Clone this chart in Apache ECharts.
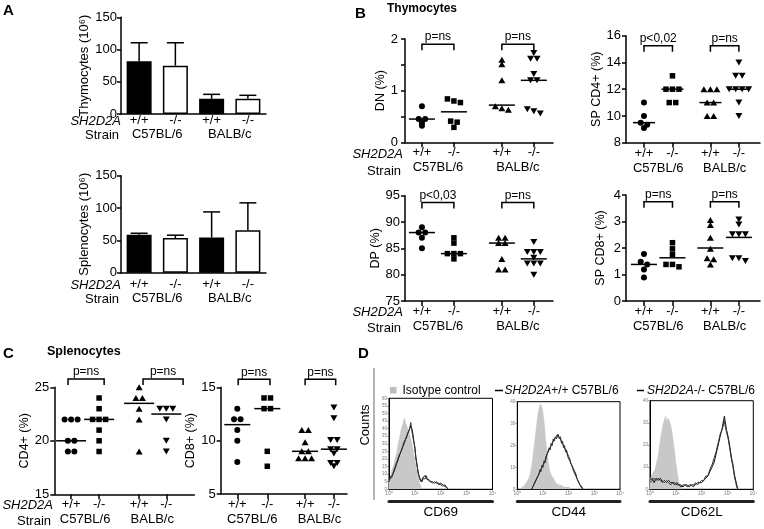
<!DOCTYPE html>
<html><head><meta charset="utf-8">
<script src="https://cdn.jsdelivr.net/npm/echarts@6/dist/echarts.min.js"></script>
<style>html,body{margin:0;padding:0;background:#fff}#c{width:764px;height:529px}</style>
</head><body><div id="c"></div>
<script>
// ---------------- DATA ----------------
const genotypes = ['+/+', '-/-', '+/+', '-/-'];
const strains = ['C57BL/6', 'BALB/c'];

// Panel A (10^6 cells): mean and upper end of error bar
const thymoMean = [82, 75, 23.5, 23.5];
const thymoUpper = [110.5, 110.5, 30.5, 29];
const splenoMean = [58.5, 53.5, 54.5, 65.5];
const splenoUpper = [61, 58, 94, 108];

// Panel B thymocytes (%), groups: C57BL/6 +/+, C57BL/6 -/-, BALB/c +/+, BALB/c -/-
const dnC57wt = [0.70, 0.45, 0.45, 0.38, 0.32];
const dnC57ko = [0.84, 0.80, 0.77, 0.41, 0.39, 0.29];
const dnBALBwt = [1.60, 1.51, 1.20, 0.70, 0.66, 0.63];
const dnBALBko = [1.73, 1.62, 1.62, 1.32, 1.20, 1.20, 0.64, 0.60, 0.56];
const dnMedian = [0.45, 0.59, 0.72, 1.2];

const cd4spC57wt = [11, 10, 9.5, 9.35, 9.1];
const cd4spC57ko = [13, 12, 12, 12, 11, 11];
const cd4spBALBwt = [12, 12, 12, 11, 11, 10, 10];
const cd4spBALBko = [14, 13, 13, 12, 12, 12, 12, 11, 10];
const cd4spMedian = [9.5, 12, 11, 12];

const dpC57wt = [89, 88, 88, 87, 85];
const dpC57ko = [87, 86, 84, 84, 84, 83];
const dpBALBwt = [87, 87, 86, 86, 83, 81, 81];
const dpBALBko = [86.2, 84.3, 84.3, 84.3, 83.2, 82.1, 82.1, 82.1, 80];
const dpMedian = [88, 84, 86, 83];

const cd8spC57wt = [1.77, 1.48, 1.38, 1.19, 0.89];
const cd8spC57ko = [2.2, 1.97, 1.76, 1.38, 1.38, 1.29];
const cd8spBALBwt = [3.06, 2.87, 2.39, 1.97, 1.61, 1.58, 1.38];
const cd8spBALBko = [3.08, 2.89, 2.52, 2.52, 2.52, 1.61, 1.61, 1.51];
const cd8spMedian = [1.38, 1.63, 2.0, 2.4];

// Panel C splenocytes (%)
const cd4C57wt = [22, 22, 22, 20, 20, 19, 19];
const cd4C57ko = [24, 23, 22, 22, 22, 21, 20, 19];
const cd4BALBwt = [25, 24, 24, 23, 22, 19];
const cd4BALBko = [23, 23, 23, 22, 20, 19];
const cd4Median = [20, 22, 23.5, 22.5];

const cd8C57wt = [13, 12, 12, 11, 10, 8];
const cd8C57ko = [14, 14, 13, 13, 9, 7.6];
const cd8BALBwt = [11, 11, 9.85, 9, 9, 8.35, 8.35, 8.35];
const cd8BALBko = [13.1, 12.1, 10.05, 10.05, 9.2, 9.2, 8.8, 7.9, 7.9, 7.6];
const cd8Median = [11.5, 13, 9, 9.2];

// p-value annotations
const pThymo = { dn: ['p=ns', 'p=ns'], cd4sp: ['p<0,02', 'p=ns'], dp: ['p<0,03', 'p=ns'], cd8sp: ['p=ns', 'p=ns'] };
const pSpleno = { cd4: ['p=ns', 'p=ns'], cd8: ['p=ns', 'p=ns'] };

// Panel D histograms: [log10 fluorescence, counts]
const cd69Iso = [[0,5],[0.05,8],[0.1,12],[0.15,13],[0.2,17],[0.25,21],[0.3,24],[0.35,30],[0.4,33],[0.45,38],[0.5,41],[0.55,44],[0.6,47],[0.65,43],[0.7,44],[0.75,39],[0.8,36],[0.85,33],[0.9,29],[0.95,24],[1.0,19],[1.05,14],[1.1,10],[1.15,6],[1.2,3],[1.25,1],[1.3,0]];
const cd69Wt = [[0,6],[0.04,8],[0.08,7],[0.12,9],[0.16,10],[0.2,12],[0.24,14],[0.28,16],[0.32,18],[0.36,20],[0.4,22],[0.44,23],[0.48,26],[0.52,27],[0.56,29],[0.6,31],[0.64,32],[0.68,35],[0.72,36],[0.76,38],[0.8,39],[0.84,42],[0.88,40],[0.92,37],[0.96,32],[1.0,27],[1.04,21],[1.08,16],[1.12,12],[1.16,9],[1.2,7],[1.24,5],[1.28,6],[1.32,8],[1.36,7],[1.4,9],[1.44,7],[1.48,8],[1.52,6],[1.56,7],[1.6,5],[1.68,5],[1.76,4],[1.84,5],[1.92,3],[2.0,4],[2.08,3],[2.16,2],[2.24,1],[2.3,0]];
const cd69Ko = [[0,5],[0.04,7],[0.08,8],[0.12,8],[0.16,11],[0.2,11],[0.24,15],[0.28,15],[0.32,19],[0.36,19],[0.4,23],[0.44,24],[0.48,25],[0.52,28],[0.56,28],[0.6,32],[0.64,31],[0.68,34],[0.72,37],[0.76,37],[0.8,40],[0.84,44],[0.88,39],[0.92,38],[0.96,31],[1.0,28],[1.04,20],[1.08,17],[1.12,11],[1.16,10],[1.2,6],[1.24,6],[1.28,5],[1.32,7],[1.36,8],[1.4,7],[1.44,9],[1.48,7],[1.52,7],[1.56,6],[1.6,6],[1.68,4],[1.76,5],[1.84,4],[1.92,4],[2.0,3],[2.08,2],[2.16,3],[2.24,1],[2.3,0]];

const cd44Iso = [[0.1,0],[0.2,1],[0.3,2],[0.4,4],[0.45,5],[0.5,7],[0.55,10],[0.6,14],[0.65,19],[0.7,24],[0.75,29],[0.8,34],[0.85,37],[0.9,39],[0.95,38],[1.0,35],[1.05,30],[1.1,23],[1.15,18],[1.2,13],[1.25,9],[1.3,7],[1.4,5],[1.5,3],[1.6,2],[1.7,2],[1.8,1],[2.0,1],[2.1,0]];
const cd44Wt = [[0.56,0],[0.6,1],[0.64,2],[0.68,2],[0.72,4],[0.76,4],[0.8,6],[0.84,7],[0.88,8],[0.92,9],[0.96,10],[1.0,11],[1.04,12],[1.08,13],[1.12,15],[1.16,15],[1.2,17],[1.24,18],[1.28,19],[1.32,20],[1.36,21],[1.4,22],[1.44,23],[1.48,23],[1.52,24],[1.56,25],[1.6,24],[1.64,24],[1.68,23],[1.72,22],[1.76,21],[1.8,20],[1.84,19],[1.88,18],[1.92,17],[1.96,16],[2.0,15],[2.04,14],[2.08,12],[2.12,12],[2.16,10],[2.2,9],[2.24,8],[2.28,7],[2.32,5],[2.36,5],[2.4,3],[2.44,2],[2.48,2],[2.52,1],[2.56,0]];
const cd44Ko = [[0.56,0],[0.6,1],[0.64,1],[0.68,3],[0.72,3],[0.76,5],[0.8,5],[0.84,7],[0.88,9],[0.92,8],[0.96,11],[1.0,10],[1.04,13],[1.08,12],[1.12,14],[1.16,16],[1.2,16],[1.24,19],[1.28,18],[1.32,21],[1.36,20],[1.4,23],[1.44,22],[1.48,24],[1.52,23],[1.56,24],[1.6,25],[1.64,23],[1.68,24],[1.72,21],[1.76,22],[1.8,19],[1.84,20],[1.88,17],[1.92,18],[1.96,15],[2.0,15],[2.04,13],[2.08,13],[2.12,11],[2.16,11],[2.2,8],[2.24,8],[2.28,6],[2.32,6],[2.36,4],[2.4,4],[2.44,2],[2.48,1],[2.52,1],[2.56,0]];

const cd62Iso = [[0,4],[0.05,6],[0.1,6],[0.15,8],[0.2,9],[0.25,12],[0.3,14],[0.35,18],[0.4,22],[0.45,26],[0.5,29],[0.55,31],[0.6,33],[0.65,31],[0.7,32],[0.75,31],[0.8,29],[0.85,26],[0.9,22],[0.95,17],[1.0,12],[1.05,8],[1.1,4],[1.15,2],[1.2,1],[1.25,0]];
const cd62Wt = [[0,4],[0.08,5],[0.16,3],[0.24,5],[0.32,4],[0.4,5],[0.48,3],[0.56,4],[0.64,3],[0.72,4],[0.8,3],[0.88,3],[0.96,2],[1.04,3],[1.12,2],[1.2,2],[1.28,1],[1.36,2],[1.44,2],[1.52,1],[1.6,2],[1.68,2],[1.76,2],[1.84,3],[1.92,3],[2.0,3],[2.08,4],[2.16,5],[2.24,6],[2.32,8],[2.4,10],[2.48,12],[2.56,16],[2.64,20],[2.72,24],[2.8,28],[2.88,33],[2.92,30],[2.96,27],[3.0,25],[3.04,23],[3.08,20],[3.12,17],[3.16,14],[3.2,12],[3.24,9],[3.28,6],[3.32,4],[3.36,2],[3.4,0]];
const cd62Ko = [[0,3],[0.08,4],[0.16,5],[0.24,4],[0.32,5],[0.4,4],[0.48,4],[0.56,3],[0.64,4],[0.72,3],[0.8,2],[0.88,3],[0.96,3],[1.04,2],[1.12,2],[1.2,1],[1.28,2],[1.36,2],[1.44,1],[1.52,2],[1.6,2],[1.68,1],[1.76,3],[1.84,2],[1.92,3],[2.0,4],[2.08,4],[2.16,6],[2.24,6],[2.32,9],[2.4,11],[2.48,14],[2.56,17],[2.64,21],[2.72,25],[2.8,27],[2.88,31],[2.92,28],[2.96,28],[3.0,24],[3.04,22],[3.08,19],[3.12,16],[3.16,13],[3.2,11],[3.24,8],[3.28,5],[3.32,3],[3.36,1],[3.4,0]];

// ---------------- BUILD ----------------
const FONT = "'Liberation Sans', Arial, Helvetica, sans-serif";
const BLACK = '#000';
const grid = [], xAxis = [], yAxis = [], series = [], graphic = [];
const groupSymbols = ['circle', 'rect', 'triangle', 'triangle'];
const groupSizes = [6, 5.5, [7, 6], [7, 6]];
const groupRot = [0, 0, 0, 180];

function beeswarm(values, center, pxY, pxX, stepPx, thrPx) {
  const s = values.slice().sort((a, b) => b - a);
  const out = []; let cl = [s[0]];
  const flush = () => { const n = cl.length; cl.forEach((v, i) => out.push([center + (i - (n - 1) / 2) * stepPx / pxX, v])); };
  for (let k = 1; k < s.length; k++) {
    if ((cl[cl.length - 1] - s[k]) * pxY <= thrPx) cl.push(s[k]);
    else { flush(); cl = [s[k]]; }
  }
  flush();
  return out;
}
const lbl = (extra) => Object.assign({ fontSize: 13, fontFamily: FONT, color: BLACK }, extra || {});
const pickLabel = (arr, list) => v => { const i = arr.findIndex(p => Math.abs(p - v) < 1e-6); return i >= 0 ? list[i] : ''; };

function scatterPanel(c) {
  const gi = grid.length;
  grid.push({ left: c.left, top: c.top, width: c.width, height: c.height });
  const pxX = c.width / (c.xmax - c.xmin), pxY = c.height / (c.ymax - c.ymin);
  const xi = xAxis.length;
  xAxis.push({ gridIndex: gi, type: 'value', min: c.xmin, max: c.xmax, position: 'bottom',
    axisLine: { show: true, onZero: false, lineStyle: { color: BLACK, width: 1.5 } }, splitLine: { show: false },
    axisTick: { show: true, customValues: c.pos, length: 5, lineStyle: { color: BLACK, width: 1.5 } },
    axisLabel: lbl({ customValues: c.pos, margin: 4, formatter: pickLabel(c.pos, genotypes) }) });
  xAxis.push({ gridIndex: gi, type: 'value', min: c.xmin, max: c.xmax, position: 'bottom', offset: 15,
    axisLine: { show: false }, axisTick: { show: false }, splitLine: { show: false },
    axisLabel: lbl({ customValues: c.strainPos, margin: 4, formatter: pickLabel(c.strainPos, strains) }) });
  const yi = yAxis.length;
  yAxis.push({ gridIndex: gi, type: 'value', min: c.ymin, max: c.ymax, interval: c.yint,
    axisLine: { show: true, lineStyle: { color: BLACK, width: 1.5 } }, splitLine: { show: false },
    axisTick: { show: true, length: 4, lineStyle: { color: BLACK, width: 1.5 } },
    axisLabel: lbl({ margin: c.ylm || 5, formatter: c.yfmt || (v => String(v)) }),
    name: c.yName, nameLocation: 'middle', nameGap: c.nameGap, nameTextStyle: lbl({ fontSize: 12.5 }) });
  c.groups.forEach((vals, g) => {
    series.push({ type: 'scatter', xAxisIndex: xi, yAxisIndex: yi, silent: true, clip: false,
      data: beeswarm(vals, c.pos[g], pxY, pxX, 6.5, 3),
      symbol: groupSymbols[g], symbolSize: groupSizes[g], symbolRotate: groupRot[g],
      itemStyle: { color: BLACK, opacity: 1 } });
  });
  series.push({ type: 'custom', xAxisIndex: xi, yAxisIndex: yi, clip: false, silent: true,
    data: c.medians.map((m, i) => [c.pos[i], m]),
    renderItem: (p, api) => { const q = api.coord([api.value(0), api.value(1)]);
      return { type: 'line', shape: { x1: q[0] - c.medHalf, y1: q[1], x2: q[0] + c.medHalf, y2: q[1] }, style: { stroke: BLACK, lineWidth: 1.5 } }; } });
  series.push({ type: 'custom', xAxisIndex: xi, yAxisIndex: yi, clip: false, silent: true,
    data: c.brackets.map(b => [b[0], b[1], c.level]),
    renderItem: (p, api) => {
      const a = api.coord([api.value(0), api.value(2)]), b = api.coord([api.value(1), api.value(2)]);
      return { type: 'group', children: [
        { type: 'polyline', shape: { points: [[a[0], a[1] + 6], a, b, [b[0], b[1] + 6]] }, style: { stroke: BLACK, lineWidth: 1.5, fill: null } },
        { type: 'text', style: { text: c.ptext[p.dataIndex], x: (a[0] + b[0]) / 2, y: a[1] - 1, align: 'center', verticalAlign: 'bottom', textAlign: 'center', textVerticalAlign: 'bottom', font: '12px ' + FONT, fill: BLACK } }
      ] };
    } });
}

function barPanel(c) {
  const gi = grid.length;
  grid.push({ left: c.left, top: c.top, width: c.width, height: c.height });
  const xi = xAxis.length;
  xAxis.push({ gridIndex: gi, type: 'category', data: genotypes,
    axisLine: { show: true, lineStyle: { color: BLACK, width: 1.5 } }, axisTick: { show: false },
    axisLabel: lbl({ margin: c.labelMargin, interval: 0 }) });
  xAxis.push({ gridIndex: gi, type: 'category', data: strains, position: 'bottom', offset: 14,
    axisLine: { show: false }, axisTick: { show: false }, axisLabel: lbl({ margin: c.labelMargin, interval: 0 }) });
  const yi = yAxis.length;
  yAxis.push({ gridIndex: gi, type: 'value', min: 0, max: 150, interval: 50,
    axisLine: { show: true, lineStyle: { color: BLACK, width: 1.5 } }, splitLine: { show: false },
    axisTick: { show: true, length: 4, lineStyle: { color: BLACK, width: 1.5 } },
    axisLabel: lbl({ margin: 4 }),
    name: c.yName, nameLocation: 'middle', nameGap: 24, nameTextStyle: lbl({ fontSize: 13 }) });
  series.push({ type: 'bar', xAxisIndex: xi, yAxisIndex: yi, barWidth: 25, silent: true,
    data: c.mean.map((v, i) => ({ value: v, itemStyle: { color: i % 2 === 0 ? BLACK : '#fff' } })),
    itemStyle: { borderColor: BLACK, borderWidth: 1.5 } });
  series.push({ type: 'custom', xAxisIndex: xi, yAxisIndex: yi, clip: false, silent: true, z: 3,
    data: c.mean.map((v, i) => [i, v, c.upper[i]]),
    renderItem: (p, api) => {
      const a = api.coord([api.value(0), api.value(1)]), b = api.coord([api.value(0), api.value(2)]);
      return { type: 'group', children: [
        { type: 'line', shape: { x1: a[0], y1: a[1], x2: b[0], y2: b[1] }, style: { stroke: BLACK, lineWidth: 1.5 } },
        { type: 'line', shape: { x1: b[0] - 8.5, y1: b[1], x2: b[0] + 8.5, y2: b[1] }, style: { stroke: BLACK, lineWidth: 1.5 } }
      ] };
    } });
}

const sup = ['⁰', '¹', '²', '³', '⁴'];
function histPanel(c) {
  const gi = grid.length;
  grid.push({ left: c.left, top: c.top, width: c.width, height: c.height, show: true, borderColor: BLACK, borderWidth: 1, backgroundColor: 'transparent' });
  const xi = xAxis.length;
  xAxis.push({ gridIndex: gi, type: 'value', min: 0, max: 4, interval: 1,
    axisLine: { show: true, lineStyle: { color: BLACK, width: 1 } }, splitLine: { show: false },
    axisTick: { show: true, length: 2, lineStyle: { color: '#555', width: 0.5 } },
    axisLabel: { fontSize: 5, color: '#777', margin: 2, fontFamily: FONT, formatter: v => '10' + sup[v] } });
  xAxis.push({ gridIndex: gi, type: 'value', min: 0, max: 4, position: 'bottom', offset: 12.4,
    axisLine: { show: true, lineStyle: { color: '#222', width: 3 } }, axisTick: { show: false }, axisLabel: { show: false }, splitLine: { show: false },
    name: c.name, nameLocation: 'middle', nameGap: 4, nameTextStyle: lbl({ fontSize: 13.5 }) });
  const yi = yAxis.length;
  yAxis.push({ gridIndex: gi, type: 'value', min: 0, max: c.ymax, interval: c.yint,
    axisLine: { show: true, lineStyle: { color: BLACK, width: 1 } }, splitLine: { show: false },
    axisTick: { show: true, length: 2, lineStyle: { color: '#555', width: 0.5 } },
    axisLabel: { fontSize: 4.5, color: '#777', margin: 2, fontFamily: FONT } });
  series.push({ type: 'line', name: 'Isotype control', xAxisIndex: xi, yAxisIndex: yi, data: c.iso, showSymbol: false, silent: true,
    lineStyle: { width: 0.5, color: '#c4c4c4' }, areaStyle: { color: '#c8c8c8', opacity: 1 }, z: 1 });
  series.push({ type: 'line', name: 'SH2D2A+/+ C57BL/6', xAxisIndex: xi, yAxisIndex: yi, data: c.wt, showSymbol: false, silent: true,
    lineStyle: { width: 1, color: '#111' }, z: 2 });
  series.push({ type: 'line', name: 'SH2D2A-/- C57BL/6', xAxisIndex: xi, yAxisIndex: yi, data: c.ko, showSymbol: false, silent: true,
    lineStyle: { width: 1, color: '#333' }, z: 2 });
}

function gtext(x, y, text, o) {
  o = o || {};
  const align = o.align || 'left', va = o.va || 'middle';
  graphic.push({ type: 'text', x, y, rotation: o.rot || 0, silent: true, z: 100,
    style: { text, x: 0, y: 0, font: (o.italic ? 'italic ' : '') + (o.bold ? 'bold ' : '') + (o.size || 13) + 'px ' + FONT,
      fill: BLACK, align, verticalAlign: va, textAlign: align, textVerticalAlign: va, rich: o.rich } });
}

// Panel A
barPanel({ left: 121, top: 17.3, width: 145, height: 96.7, mean: thymoMean, upper: thymoUpper, yName: 'Thymocytes (10⁶)', labelMargin: 0 });
barPanel({ left: 121, top: 175.7, width: 145, height: 97, mean: splenoMean, upper: splenoUpper, yName: 'Splenocytes (10⁶)', labelMargin: 5 });

// Panel B
const posB1 = [1, 2, 3.5, 4.5];
const posB2 = [1, 2, 3.33, 4.33];
scatterPanel({ left: 405, top: 39, width: 148, height: 103.3, xmin: 0.47, xmax: 5.1, pos: posB1, strainPos: [1.5, 4.0],
  ymin: 0, ymax: 2, yint: 0.5, yfmt: v => (Number.isInteger(v) ? String(v) : ''), ylm: 7, yName: 'DN (%)', nameGap: 16,
  groups: [dnC57wt, dnC57ko, dnBALBwt, dnBALBko], medians: dnMedian, medHalf: 13,
  brackets: [[1, 2], [3.5, 4.5]], level: 1.9, ptext: pThymo.dn });
scatterPanel({ left: 626, top: 35.7, width: 134, height: 107, xmin: 0.37, xmax: 5.07, pos: posB2, strainPos: [1.5, 3.83],
  ymin: 8, ymax: 16, yint: 2, yName: 'SP CD4+ (%)', nameGap: 19,
  groups: [cd4spC57wt, cd4spC57ko, cd4spBALBwt, cd4spBALBko], medians: cd4spMedian, medHalf: 11,
  brackets: [[1, 2], [3.33, 4.33]], level: 15.25, ptext: pThymo.cd4sp });
scatterPanel({ left: 405, top: 195.7, width: 148, height: 105.3, xmin: 0.47, xmax: 5.1, pos: posB1, strainPos: [1.5, 4.0],
  ymin: 75, ymax: 95, yint: 5, yName: 'DP (%)', nameGap: 16,
  groups: [dpC57wt, dpC57ko, dpBALBwt, dpBALBko], medians: dpMedian, medHalf: 13,
  brackets: [[1, 2], [3.5, 4.5]], level: 93.7, ptext: pThymo.dp });
scatterPanel({ left: 626, top: 195, width: 134, height: 106, xmin: 0.37, xmax: 5.07, pos: posB2, strainPos: [1.5, 3.83],
  ymin: 0, ymax: 4, yint: 1, yName: 'SP CD8+ (%)', nameGap: 19,
  groups: [cd8spC57wt, cd8spC57ko, cd8spBALBwt, cd8spBALBko], medians: cd8spMedian, medHalf: 13,
  brackets: [[1, 2], [3.33, 4.33]], level: 3.75, ptext: pThymo.cd8sp });

// Panel C
scatterPanel({ left: 54.3, top: 387.3, width: 140, height: 107, xmin: 0.4, xmax: 5.4, pos: [1, 2, 3.43, 4.4], strainPos: [1.5, 3.9],
  ymin: 15, ymax: 25, yint: 5, yName: 'CD4+ (%)', nameGap: 18.5,
  groups: [cd4C57wt, cd4C57ko, cd4BALBwt, cd4BALBko], medians: cd4Median, medHalf: 15,
  brackets: [[0.89, 2.18], [3.57, 5.0]], level: 25.78, ptext: pSpleno.cd4 });
scatterPanel({ left: 220.7, top: 387.3, width: 126.3, height: 106.7, xmin: 0.447, xmax: 4.657, pos: [1, 2, 3.26, 4.22], strainPos: [1.5, 3.74],
  ymin: 5, ymax: 15, yint: 5, yName: 'CD8+ (%)', nameGap: 14,
  groups: [cd8C57wt, cd8C57ko, cd8BALBwt, cd8BALBko], medians: cd8Median, medHalf: 13,
  brackets: [[1.03, 2.09], [3.26, 4.28]], level: 15.75, ptext: pSpleno.cd8 });

// Panel D
histPanel({ left: 389, top: 398.3, width: 103.5, height: 91, ymax: 60, yint: 5, iso: cd69Iso, wt: cd69Wt, ko: cd69Ko, name: 'CD69' });
histPanel({ left: 517.3, top: 401.7, width: 102.7, height: 87.6, ymax: 40, yint: 10, iso: cd44Iso, wt: cd44Wt, ko: cd44Ko, name: 'CD44' });
histPanel({ left: 650, top: 400.7, width: 103.3, height: 88.6, ymax: 40, yint: 10, iso: cd62Iso, wt: cd62Wt, ko: cd62Ko, name: 'CD62L' });

// Panel letters and titles
gtext(3, 10.5, 'A', { bold: true, size: 15 });
gtext(355, 13.5, 'B', { bold: true, size: 15 });
gtext(387, 8.5, 'Thymocytes', { bold: true, size: 12 });
gtext(3, 354, 'C', { bold: true, size: 15 });
gtext(47, 352, 'Splenocytes', { bold: true, size: 12.5 });
gtext(358, 354, 'D', { bold: true, size: 15 });

// Row headers
const italicRich = { i: { fontStyle: 'italic', fontSize: 13, fontFamily: FONT } };
function rowHeads(xr, y1, y2) {
  gtext(xr, y1, '{i|SH2D2A}', { align: 'right', rich: italicRich });
  gtext(xr - 2, y2, 'Strain', { align: 'right' });
}
rowHeads(121, 121, 135);
rowHeads(121, 285, 299);
rowHeads(403, 154.5, 171);
rowHeads(403, 312.5, 328);
rowHeads(53, 505.5, 521.5);

// Panel D legend, axis title, divider
graphic.push({ type: 'rect', shape: { x: 390, y: 387, width: 6.5, height: 6.5 }, style: { fill: '#bdbdbd' }, silent: true });
gtext(402.5, 390.5, 'Isotype control', { size: 12 });
graphic.push({ type: 'line', shape: { x1: 495, y1: 390.5, x2: 503, y2: 390.5 }, style: { stroke: BLACK, lineWidth: 1.5 }, silent: true });
gtext(504.5, 390.5, '{i|SH2D2A}+/+ C57BL/6', { size: 12, rich: { i: { fontStyle: 'italic', fontSize: 12, fontFamily: FONT } } });
graphic.push({ type: 'line', shape: { x1: 637, y1: 390.5, x2: 644, y2: 390.5 }, style: { stroke: BLACK, lineWidth: 1.5 }, silent: true });
gtext(647, 390.5, '{i|SH2D2A}-/- C57BL/6', { size: 12, rich: { i: { fontStyle: 'italic', fontSize: 12, fontFamily: FONT } } });
gtext(365, 425, 'Counts', { align: 'center', rot: Math.PI / 2 });
graphic.push({ type: 'line', shape: { x1: 374, y1: 368, x2: 374, y2: 500 }, style: { stroke: '#9a9a9a', lineWidth: 1.5 }, silent: true });

const chart = echarts.init(document.getElementById('c'), null, { renderer: 'canvas' });
chart.setOption({ animation: false, backgroundColor: '#fff', textStyle: { fontFamily: FONT },
  grid, xAxis, yAxis, series, graphic });
</script></body></html>
